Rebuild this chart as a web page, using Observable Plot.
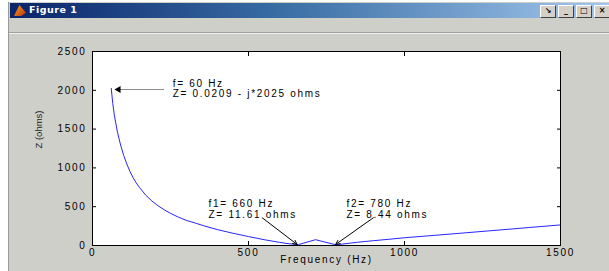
<!DOCTYPE html>
<html>
<head>
<meta charset="utf-8">
<script src="https://cdn.jsdelivr.net/npm/d3@7"></script>
<script src="https://cdn.jsdelivr.net/npm/@observablehq/plot@0.6"></script>
<style>
  html, body { margin: 0; padding: 0; background: #ffffff; }
  body { width: 609px; height: 271px; overflow: hidden; position: relative; font-family: "Liberation Sans", Arial, sans-serif; }
  #win { position: absolute; left: 8px; top: 2px; width: 610px; height: 275px; background: #cfcfca; border-left: 1px solid #9a9a9a; }
  #title { position: absolute; left: 1px; top: 1px; right: 0; height: 15px;
           background: linear-gradient(to right, #0a246a 0%, #3a6ea5 45%, #a6caf0 100%); }
  #title .icon { position: absolute; left: 4px; top: 2px; width: 12px; height: 11px;
           background: linear-gradient(135deg, #f7a21b, #c03010); clip-path: polygon(0 100%, 45% 0, 100% 70%, 60% 100%); }
  #title .txt { position: absolute; left: 19px; top: 1px; color: #fff; font: bold 9.5px "DejaVu Sans", sans-serif; letter-spacing: 0.5px; }
  #title .btns { position: absolute; right: 9px; top: 2px; display: flex; gap: 2px; }
  #title .btns span { display: block; width: 14px; height: 11px; background: #d4d0c8; border: 1px solid; border-color: #fff #404040 #404040 #fff; font: bold 8px "DejaVu Sans", sans-serif; color: #000; text-align: center; line-height: 10px; }
  #menu { position: absolute; left: 0; top: 17px; right: 0; height: 13px; border-bottom: 1px solid #a0a09c; box-shadow: 0 1px 0 #f0f0f0; }
  #chart { position: absolute; left: 10px; top: 33px; }
  #chart svg text { letter-spacing: 1.7px; }
</style>
</head>
<body>
<div id="win">
  <div id="title"><div class="icon"></div><div class="txt">Figure 1</div>
    <div class="btns"><span>↘</span><span>_</span><span>□</span><span>×</span></div></div>
  <div id="menu"></div>
</div>
<div id="chart"></div>
<script>
// ---- data ----
const freqHz = [60, 65, 70, 80, 90, 100, 110, 120, 130, 140, 150, 170, 190, 210, 230, 250, 275, 300, 330, 360, 400, 450, 500, 550, 600, 630, 660, 715, 780, 800, 850, 900, 950, 1000, 1100, 1200, 1300, 1400, 1500];
const zOhms  = [2025, 1830, 1680, 1460, 1295, 1160, 1050, 955, 875, 808, 750, 652, 575, 512, 460, 414, 366, 325, 288, 250, 205, 158, 115, 75, 40, 22, 11.61, 75, 8.44, 18, 42, 62, 80, 100, 132, 165, 198, 232, 265];

const xTicks = [0, 500, 1000, 1500];
const yTicks = [0, 500, 1000, 1500, 2000, 2500];
const xLabel = "Frequency (Hz)";
const yLabel = "Z (ohms)";

// annotations (data coordinates)
const noteText = ["f= 60 Hz\nZ= 0.0209 - j*2025 ohms", "f1= 660 Hz\nZ= 11.61 ohms", "f2= 780 Hz\nZ= 8.44 ohms"];
const noteX = [257, 372, 814];
const noteY = [2020, 468, 468];
const arrowX1 = [228, 544, 900];
const arrowY1 = [2010, 357, 357];
const arrowX2 = [77, 656, 779];
const arrowY2 = [2010, 13, 13];

const curve = freqHz.map((f, i) => ({f, z: zOhms[i]}));
const notes = noteText.map((t, i) => ({t, x: noteX[i], y: noteY[i]}));
const arrows = arrowX1.map((x1, i) => ({x1, y1: arrowY1[i], x2: arrowX2[i], y2: arrowY2[i], gray: i === 0}));

const chart = Plot.plot({
  width: 599,
  height: 238,
  marginLeft: 82,
  marginRight: 49,
  marginTop: 18,
  marginBottom: 26,
  style: {background: "transparent", fontFamily: "'Liberation Sans', Arial, sans-serif", fontSize: "10px", color: "#000"},
  x: {domain: [0, 1500]},
  y: {domain: [0, 2500]},
  marks: [
    Plot.frame({fill: "white", stroke: null}),
    Plot.axisX({anchor: "bottom", ticks: xTicks, tickSize: -4, tickPadding: 7, tickFormat: d3.format("d"), label: null}),
    Plot.axisX({anchor: "top", ticks: xTicks, tickSize: -4, tickFormat: () => "", label: null}),
    Plot.axisY({anchor: "left", ticks: yTicks, tickSize: -4, tickPadding: 10, tickFormat: d3.format("d"), label: null}),
    Plot.axisY({anchor: "right", ticks: yTicks, tickSize: -4, tickFormat: () => "", label: null}),
    Plot.line(curve, {x: "f", y: "z", stroke: "#2626ff", strokeWidth: 1}),
    Plot.arrow(arrows.filter(d => d.gray), {x1: "x1", y1: "y1", x2: "x2", y2: "y2", stroke: "#8c8c8c", strokeWidth: 1, headLength: 0}),
    Plot.dot(arrows.filter(d => d.gray), {x: "x2", y: "y2", symbol: "triangle", rotate: -90, r: 2.6, fill: "#000", stroke: null, dx: 2}),
    Plot.arrow(arrows.filter(d => !d.gray), {x1: "x1", y1: "y1", x2: "x2", y2: "y2", stroke: "#000", strokeWidth: 1, headLength: 7, headAngle: 50}),
    Plot.text(notes, {x: "x", y: "y", text: "t", textAnchor: "start", lineAnchor: "middle", lineHeight: 1.05, fontSize: 10, fill: "#000"}),
    Plot.text([xLabel], {frameAnchor: "bottom", text: d => d, dy: 17, fontSize: 10, fill: "#000"}),
    Plot.text([yLabel], {frameAnchor: "left", text: d => d, rotate: -90, dx: -54, fontSize: 9.5, fill: "#222"}),
    Plot.frame({stroke: "#000", strokeWidth: 1})
  ]
});
document.getElementById("chart").appendChild(chart);
d3.select(chart).selectAll("text").filter(function() { return this.textContent === yLabel; }).style("letter-spacing", "0px");
</script>
</body>
</html>
